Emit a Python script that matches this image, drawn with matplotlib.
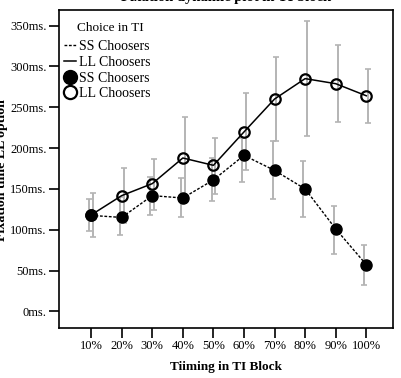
import matplotlib
matplotlib.use('Agg')
import matplotlib.pyplot as plt
from matplotlib.lines import Line2D

plt.rcParams['font.family'] = ['Liberation Serif', 'DejaVu Serif']

timing = ['10%', '20%', '30%', '40%', '50%', '60%', '70%', '80%', '90%', '100%']
ss_mean = [117.5, 115, 141.7, 138.8, 160.9, 191, 172.6, 149.9, 100.9, 57.2]
ss_low = [99, 93, 117.5, 115, 135, 158, 137, 115.6, 70.6, 32.7]
ss_high = [138, 140, 165, 163, 188, 212, 209, 183.7, 129.4, 81.7]
ll_mean = [118, 141.7, 156.4, 187.8, 178.8, 219.7, 260, 285, 278.8, 264]
ll_low = [91, 108, 124.5, 138, 144, 173, 209, 215, 232, 231]
ll_high = [145, 176, 186.6, 237.5, 212, 267, 311, 355, 325.7, 297]
yticks = [0, 50, 100, 150, 200, 250, 300, 350]

x = list(range(1, len(timing) + 1))

fig = plt.figure(figsize=(4.01, 3.78), dpi=100)
ax = fig.add_axes([0.1471, 0.1331, 0.8319, 0.8404])
axw, axh = 333.7, 317.7  # axes size in px

# error bars (grey), SS slightly left, LL slightly right
ss_err = [[m - l for m, l in zip(ss_mean, ss_low)], [h - m for m, h in zip(ss_mean, ss_high)]]
ll_err = [[m - l for m, l in zip(ll_mean, ll_low)], [h - m for m, h in zip(ll_mean, ll_high)]]
ax.errorbar([v - 0.06 for v in x], ss_mean, yerr=ss_err, fmt='none', ecolor='#b4b4b4',
            elinewidth=1.4, capsize=2.5, capthick=1.2, zorder=1)
ax.errorbar([v + 0.06 for v in x], ll_mean, yerr=ll_err, fmt='none', ecolor='#b4b4b4',
            elinewidth=1.4, capsize=2.5, capthick=1.2, zorder=1)

ax.plot(x, ss_mean, color='black', lw=1.0, ls=(0, (2, 1.2)), zorder=2)
ax.plot(x, ll_mean, color='black', lw=1.1, ls='-', zorder=2)
ax.plot(x, ss_mean, 'o', ms=8, mfc='black', mec='black', zorder=3)
ax.plot(x, ll_mean, 'o', ms=7.5, mfc='none', mec='black', mew=1.6, zorder=3)

ax.set_xlim(-0.05, 10.86)
ax.set_ylim(-20, 369)
ax.set_xticks(x)
ax.set_xticklabels(timing)
ax.set_yticks(yticks)
ax.set_yticklabels([f'{t}ms.' for t in yticks])
ax.tick_params(axis='both', labelsize=9, length=7, width=1.2, direction='out', colors='black')
ax.tick_params(axis='y', pad=2)
ax.tick_params(axis='x', pad=2)
for s in ax.spines.values():
    s.set_linewidth(1.2)

ax.set_xlabel('Tiiming in TI Block', fontsize=9.5, fontweight='bold', labelpad=6)
fig.text(8 / 401, 0.55, 'Fixation time LL option', rotation=90, ha='right', va='center',
         fontsize=10, fontweight='bold')
fig.text(225.9 / 401, 1 - 1 / 378, 'Fixation dynamic plot in TI block', ha='center',
         va='baseline', fontsize=10.5, fontweight='bold')

ax.text(18 / axw, 1 - 18 / axh, 'Choice in TI', transform=ax.transAxes, ha='left',
        va='center', fontsize=9.5)
handles = [
    Line2D([], [], color='black', lw=1.0, ls=(0, (2, 1.2))),
    Line2D([], [], color='black', lw=1.1),
    Line2D([], [], ls='none', marker='o', ms=10, mfc='black', mec='black'),
    Line2D([], [], ls='none', marker='o', ms=9.5, mfc='none', mec='black', mew=1.6),
]
leg = ax.legend(handles, ['SS Choosers', 'LL Choosers', 'SS Choosers', 'LL Choosers'],
                loc='upper left', bbox_to_anchor=(5 / axw, 1 - 30 / axh), frameon=False,
                fontsize=10, handlelength=0.85, handletextpad=0.2, labelspacing=0.2,
                borderaxespad=0, borderpad=0)

fig.savefig('out.png', dpi=100)
